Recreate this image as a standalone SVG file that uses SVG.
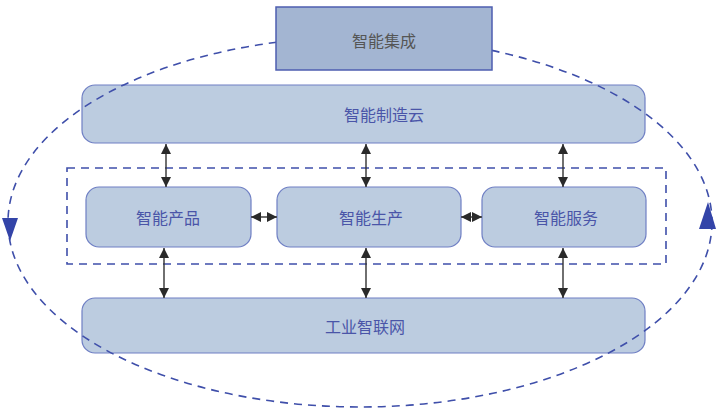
<svg xmlns="http://www.w3.org/2000/svg" width="720" height="415" viewBox="0 0 720 415">
<style>
.box{fill:#BCCCE0;stroke:#6F7FC4;stroke-width:1.2}
.top{fill:#A3B5D2;stroke:#4E5EB0;stroke-width:1.5}
.t{font-family:"Noto Sans CJK SC","Liberation Sans",sans-serif;font-size:16px;fill:#4A55A8;text-anchor:middle;dominant-baseline:central}
.tg{fill:#555555}
.dash{fill:none;stroke:#3F4FAA;stroke-width:1.6;stroke-dasharray:8 6}
.ar{stroke:#333333;stroke-width:1.4;fill:none;marker-start:url(#ah);marker-end:url(#ah)}
</style>
<defs>
<marker id="ah" viewBox="0 0 10 10" refX="10" refY="5" markerWidth="10" markerHeight="10" markerUnits="userSpaceOnUse" orient="auto-start-reverse">
<path d="M0,0 L10,5 L0,10 z" fill="#2A2A2A"/>
</marker>
</defs>
<rect x="67" y="168" width="599" height="96" class="dash" stroke-dasharray="9 6"/>
<g id="cloud"><rect x="82" y="85" width="563" height="58" rx="13" class="box"/><text x="384" y="114" class="t">智能制造云</text></g>
<g id="product"><rect x="86" y="187" width="165" height="60" rx="13" class="box"/><text x="168" y="217" class="t">智能产品</text></g>
<g id="production"><rect x="277" y="187" width="184" height="60" rx="13" class="box"/><text x="371" y="217" class="t">智能生产</text></g>
<g id="service"><rect x="482" y="187" width="164" height="60" rx="13" class="box"/><text x="566" y="217" class="t">智能服务</text></g>
<g id="iiot"><rect x="82" y="298" width="563" height="55" rx="13" class="box"/><text x="365" y="326" class="t">工业智联网</text></g>
<g id="connectors">
<line x1="166" y1="144" x2="166" y2="187" class="ar"/>
<line x1="366" y1="144" x2="366" y2="187" class="ar"/>
<line x1="563" y1="144" x2="563" y2="187" class="ar"/>
<line x1="164" y1="248" x2="164" y2="298" class="ar"/>
<line x1="366" y1="248" x2="366" y2="298" class="ar"/>
<line x1="563" y1="248" x2="563" y2="298" class="ar"/>
<line x1="251" y1="217" x2="277" y2="217" class="ar"/>
<line x1="461" y1="217" x2="482" y2="217" class="ar"/>
<ellipse cx="360" cy="222" rx="352" ry="185" class="dash"/>
<polygon points="2,218 18,218 10,241" fill="#3344A8"/>
<polygon points="699,229 716,229 708,202" fill="#3344A8"/>
</g>
<g id="integration"><rect x="276" y="7" width="216" height="63" class="top"/><text x="384" y="40" class="t tg">智能集成</text></g>
</svg>
